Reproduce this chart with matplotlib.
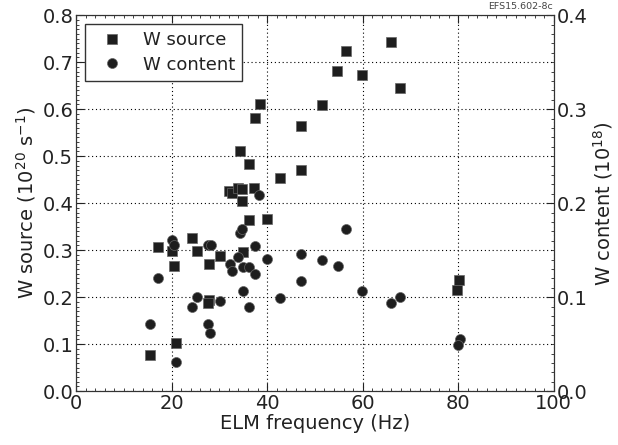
import matplotlib
matplotlib.use('Agg')
import matplotlib.pyplot as plt
from matplotlib.ticker import AutoMinorLocator

# W source (10^20 s^-1) against ELM frequency
src_freq = [15.4, 17.1, 20.1, 20.6, 21.0, 24.2, 25.4, 27.8, 27.8, 27.6, 30.1,
            32.1, 32.6, 34.0, 34.8, 34.8, 34.3, 36.2, 36.3, 37.3, 37.4, 38.5,
            40.0, 34.9, 42.6, 47.2, 47.2, 51.5, 54.6, 56.5, 59.9, 65.9, 67.9,
            80.1, 79.8]
src_val = [0.077, 0.306, 0.298, 0.267, 0.103, 0.326, 0.299, 0.270, 0.194, 0.187, 0.287,
           0.426, 0.422, 0.433, 0.430, 0.404, 0.511, 0.484, 0.364, 0.433, 0.582, 0.611,
           0.367, 0.295, 0.453, 0.564, 0.470, 0.609, 0.682, 0.723, 0.672, 0.742, 0.646,
           0.236, 0.216]

# W content (10^18) against ELM frequency
cont_freq = [15.5, 17.1, 20.0, 20.6, 21.0, 24.3, 25.4, 27.7, 28.2, 27.6, 28.0,
             30.1, 32.3, 32.6, 33.9, 34.3, 34.8, 34.9, 34.9, 36.3, 36.3, 37.4,
             37.4, 40.0, 42.6, 47.2, 47.2, 56.5, 38.4, 51.5, 54.8, 59.9, 65.9,
             67.9, 80.3, 79.9]
cont_val = [0.071, 0.120, 0.161, 0.156, 0.031, 0.089, 0.100, 0.155, 0.156, 0.071, 0.062,
            0.096, 0.135, 0.128, 0.143, 0.168, 0.173, 0.132, 0.107, 0.132, 0.090, 0.125,
            0.154, 0.141, 0.099, 0.146, 0.117, 0.173, 0.209, 0.139, 0.133, 0.107, 0.094,
            0.100, 0.056, 0.049]

txt = '#222222'
plt.rcParams['font.family'] = 'DejaVu Sans'
plt.rcParams['mathtext.fontset'] = 'dejavusans'

fig = plt.figure(figsize=(6.18, 4.45), dpi=100)
ax = fig.add_axes([0.123, 0.121, 0.773, 0.845])
ax2 = ax.twinx()

mk = dict(linestyle='none', color='#1e1e1e', markeredgecolor='#666666',
          markeredgewidth=0.5)
h1, = ax.plot(src_freq, src_val, marker='s', markersize=7.2, label='W source', **mk)
h2, = ax2.plot(cont_freq, cont_val, marker='o', markersize=7.2, label='W content', **mk)

ax.set_xlim(0, 100)
ax.set_ylim(0, 0.8)
ax2.set_ylim(0, 0.4)
ax.set_xticks([0, 20, 40, 60, 80, 100])
ax.set_yticks([0.0, 0.1, 0.2, 0.3, 0.4, 0.5, 0.6, 0.7, 0.8])
ax2.set_yticks([0.0, 0.1, 0.2, 0.3, 0.4])
ax.grid(True, linestyle=(0, (1, 2.5)), color='black', linewidth=0.8)

for a in (ax, ax2):
    a.xaxis.set_minor_locator(AutoMinorLocator(10))
    a.yaxis.set_minor_locator(AutoMinorLocator(10))
    a.tick_params(which='both', direction='in', colors=txt, labelsize=14, pad=2)
    a.tick_params(which='major', length=6)
    a.tick_params(which='minor', length=2.5)
    for s in a.spines.values():
        s.set_color('#333333')
ax.tick_params(which='both', top=True, right=False)
ax2.tick_params(which='both', top=False, left=False)

ax.set_xlabel('ELM frequency (Hz)', fontsize=14, color=txt, labelpad=1)
ax.set_ylabel(r'W source (10$^{20}$ s$^{-1}$)', fontsize=14, color=txt, labelpad=3)
ax2.set_ylabel(r'W content (10$^{18}$)', fontsize=14, color=txt, labelpad=3)

leg = ax.legend(handles=[h1, h2], loc='upper left', numpoints=1, fontsize=13,
                fancybox=False, framealpha=1, edgecolor='#333333',
                borderaxespad=0.5, handletextpad=0.6, handlelength=2.2,
                labelspacing=0.35)
for t in leg.get_texts():
    t.set_color(txt)

fig.text(0.895, 0.975, 'EFS15.602-8c', fontsize=6.8, color='#444444',
         ha='right', va='bottom')

fig.savefig('out.png', dpi=100)
